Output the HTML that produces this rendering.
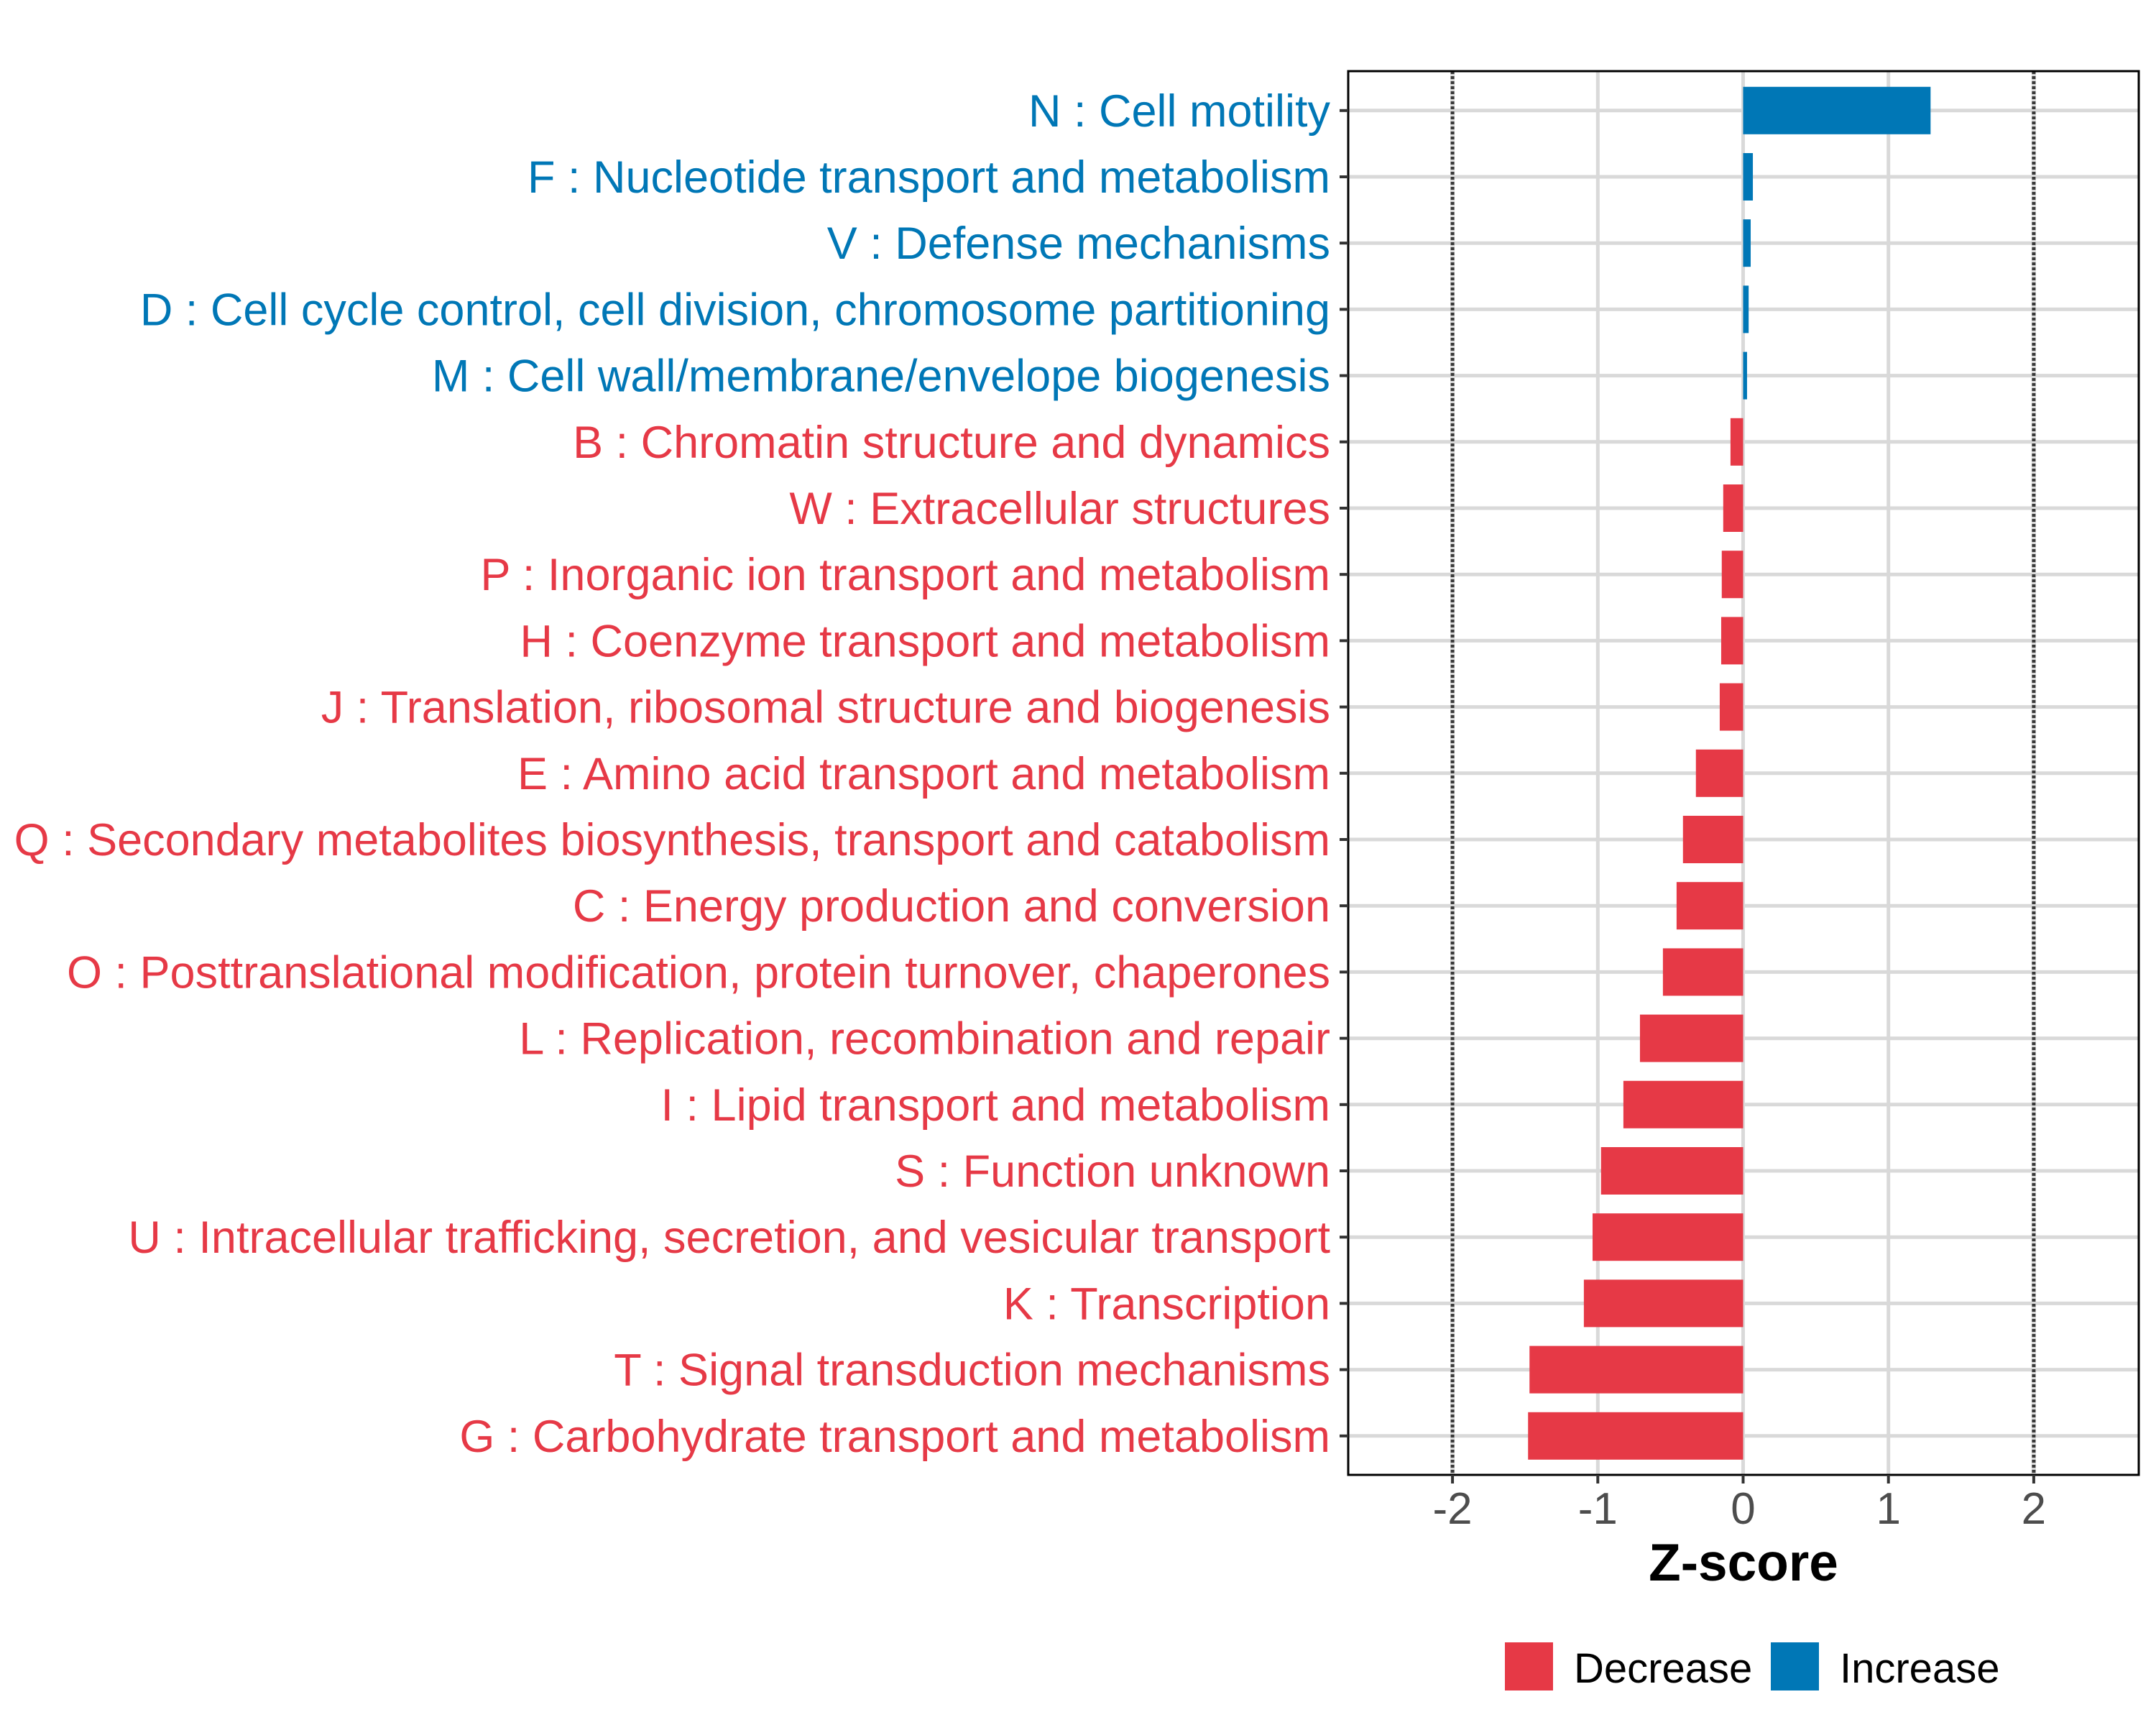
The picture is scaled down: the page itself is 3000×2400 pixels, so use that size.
<!DOCTYPE html>
<html><head><meta charset="utf-8"><style>
html,body{margin:0;padding:0;background:#fff}
svg{display:block;font-family:"Liberation Sans",Arial,sans-serif}
</style></head><body>
<svg id="chart" width="3000" height="2400" viewBox="0 0 3000 2400" xmlns="http://www.w3.org/2000/svg">
<rect x="0" y="0" width="3000" height="2400" fill="#fff"/>
<g id="grid"></g>
<g id="bars"></g>
<g id="frame"></g>
<g id="labels"></g>
<g id="xaxis"></g>
<text x="2426" y="2199" text-anchor="middle" font-size="73" font-weight="bold" fill="#000">Z-score</text>
<g>
<rect x="2094" y="2285" width="67" height="67" fill="#e63946"/>
<text x="2190" y="2341" font-size="58" fill="#000">Decrease</text>
<rect x="2464" y="2285" width="67" height="67" fill="#0077b6"/>
<text x="2560" y="2341" font-size="58" fill="#000">Increase</text>
</g>
</svg>
<script>
const categories = ["N : Cell motility","F : Nucleotide transport and metabolism","V : Defense mechanisms","D : Cell cycle control, cell division, chromosome partitioning","M : Cell wall/membrane/envelope biogenesis","B : Chromatin structure and dynamics","W : Extracellular structures","P : Inorganic ion transport and metabolism","H : Coenzyme transport and metabolism","J : Translation, ribosomal structure and biogenesis","E : Amino acid transport and metabolism","Q : Secondary metabolites biosynthesis, transport and catabolism","C : Energy production and conversion","O : Posttranslational modification, protein turnover, chaperones","L : Replication, recombination and repair","I : Lipid transport and metabolism","S : Function unknown","U : Intracellular trafficking, secretion, and vesicular transport","K : Transcription","T : Signal transduction mechanisms","G : Carbohydrate transport and metabolism"];
const zscores = [1.29,0.067,0.052,0.038,0.027,-0.087,-0.137,-0.147,-0.151,-0.161,-0.325,-0.414,-0.458,-0.552,-0.71,-0.824,-0.978,-1.036,-1.096,-1.47,-1.48];
const xTicks = [-2,-1,0,1,2];
const xTickLabels = ["-2","-1","0","1","2"];
const thresholds = [-2,2];

const NS="http://www.w3.org/2000/svg";
const PL=1876, PR=2976, PT=99, PB=2052;
const X0=2425.5, UNIT=202.2, ROW0=153.8, STEP=92.2, BARH=66;
const xs = v => X0 + v*UNIT;
const ys = i => ROW0 + i*STEP;
function mk(tag, attrs, parent){const e=document.createElementNS(NS,tag);for(const k in attrs)e.setAttribute(k,attrs[k]);parent.appendChild(e);return e;}
const grid=document.getElementById('grid'), bars=document.getElementById('bars'), frame=document.getElementById('frame'), labels=document.getElementById('labels'), xaxis=document.getElementById('xaxis');

categories.forEach((c,i)=>{
  const g=mk('line',{x1:PL,x2:PR,y1:ys(i),y2:ys(i),stroke:'#d9d9d9','stroke-width':5},grid);
  
  
});
xTicks.forEach(t=>{
  if(thresholds.includes(t)) return;
  const g=mk('line',{x1:xs(t),x2:xs(t),y1:PT,y2:PB,stroke:'#d9d9d9','stroke-width':5},grid);
  
  
});
thresholds.forEach(t=>{
  const g=mk('line',{x1:xs(t),x2:xs(t),y1:PT,y2:PB,stroke:'#d9d9d9','stroke-width':6},grid);
  
  
  const d=mk('line',{x1:xs(t),x2:xs(t),y1:PT,y2:PB,stroke:'#3a3a3a','stroke-width':5,'stroke-dasharray':'4 3'},grid);
  
  
});
zscores.forEach((v,i)=>{
  const x=Math.min(xs(0),xs(v)), w=Math.abs(xs(v)-xs(0));
  const r=mk('rect',{x:x,y:ys(i)-BARH/2,width:w,height:BARH,fill:v>=0?'#0077b6':'#e63946'},bars);
  
  
});
const fr=mk('rect',{x:PL,y:PT,width:PR-PL,height:PB-PT,fill:'none',stroke:'#000','stroke-width':3},frame);


categories.forEach((c,i)=>{
  const tk=mk('line',{x1:PL-12,x2:PL,y1:ys(i),y2:ys(i),stroke:'#333','stroke-width':4},labels);
  
  
  const t=mk('text',{x:1851,y:ys(i)+22,'text-anchor':'end','font-size':63,fill:zscores[i]>=0?'#0077b6':'#e63946'},labels);
  t.textContent=c;
  
  
});
xTicks.forEach((t,i)=>{
  const tk=mk('line',{x1:xs(t),x2:xs(t),y1:PB,y2:PB+12,stroke:'#333','stroke-width':4},xaxis);
  
  
  const l=mk('text',{x:xs(t),y:2120,'text-anchor':'middle','font-size':62,fill:'#4d4d4d'},xaxis);
  l.textContent=xTickLabels[i];
  
  
});
</script>
</body></html>
